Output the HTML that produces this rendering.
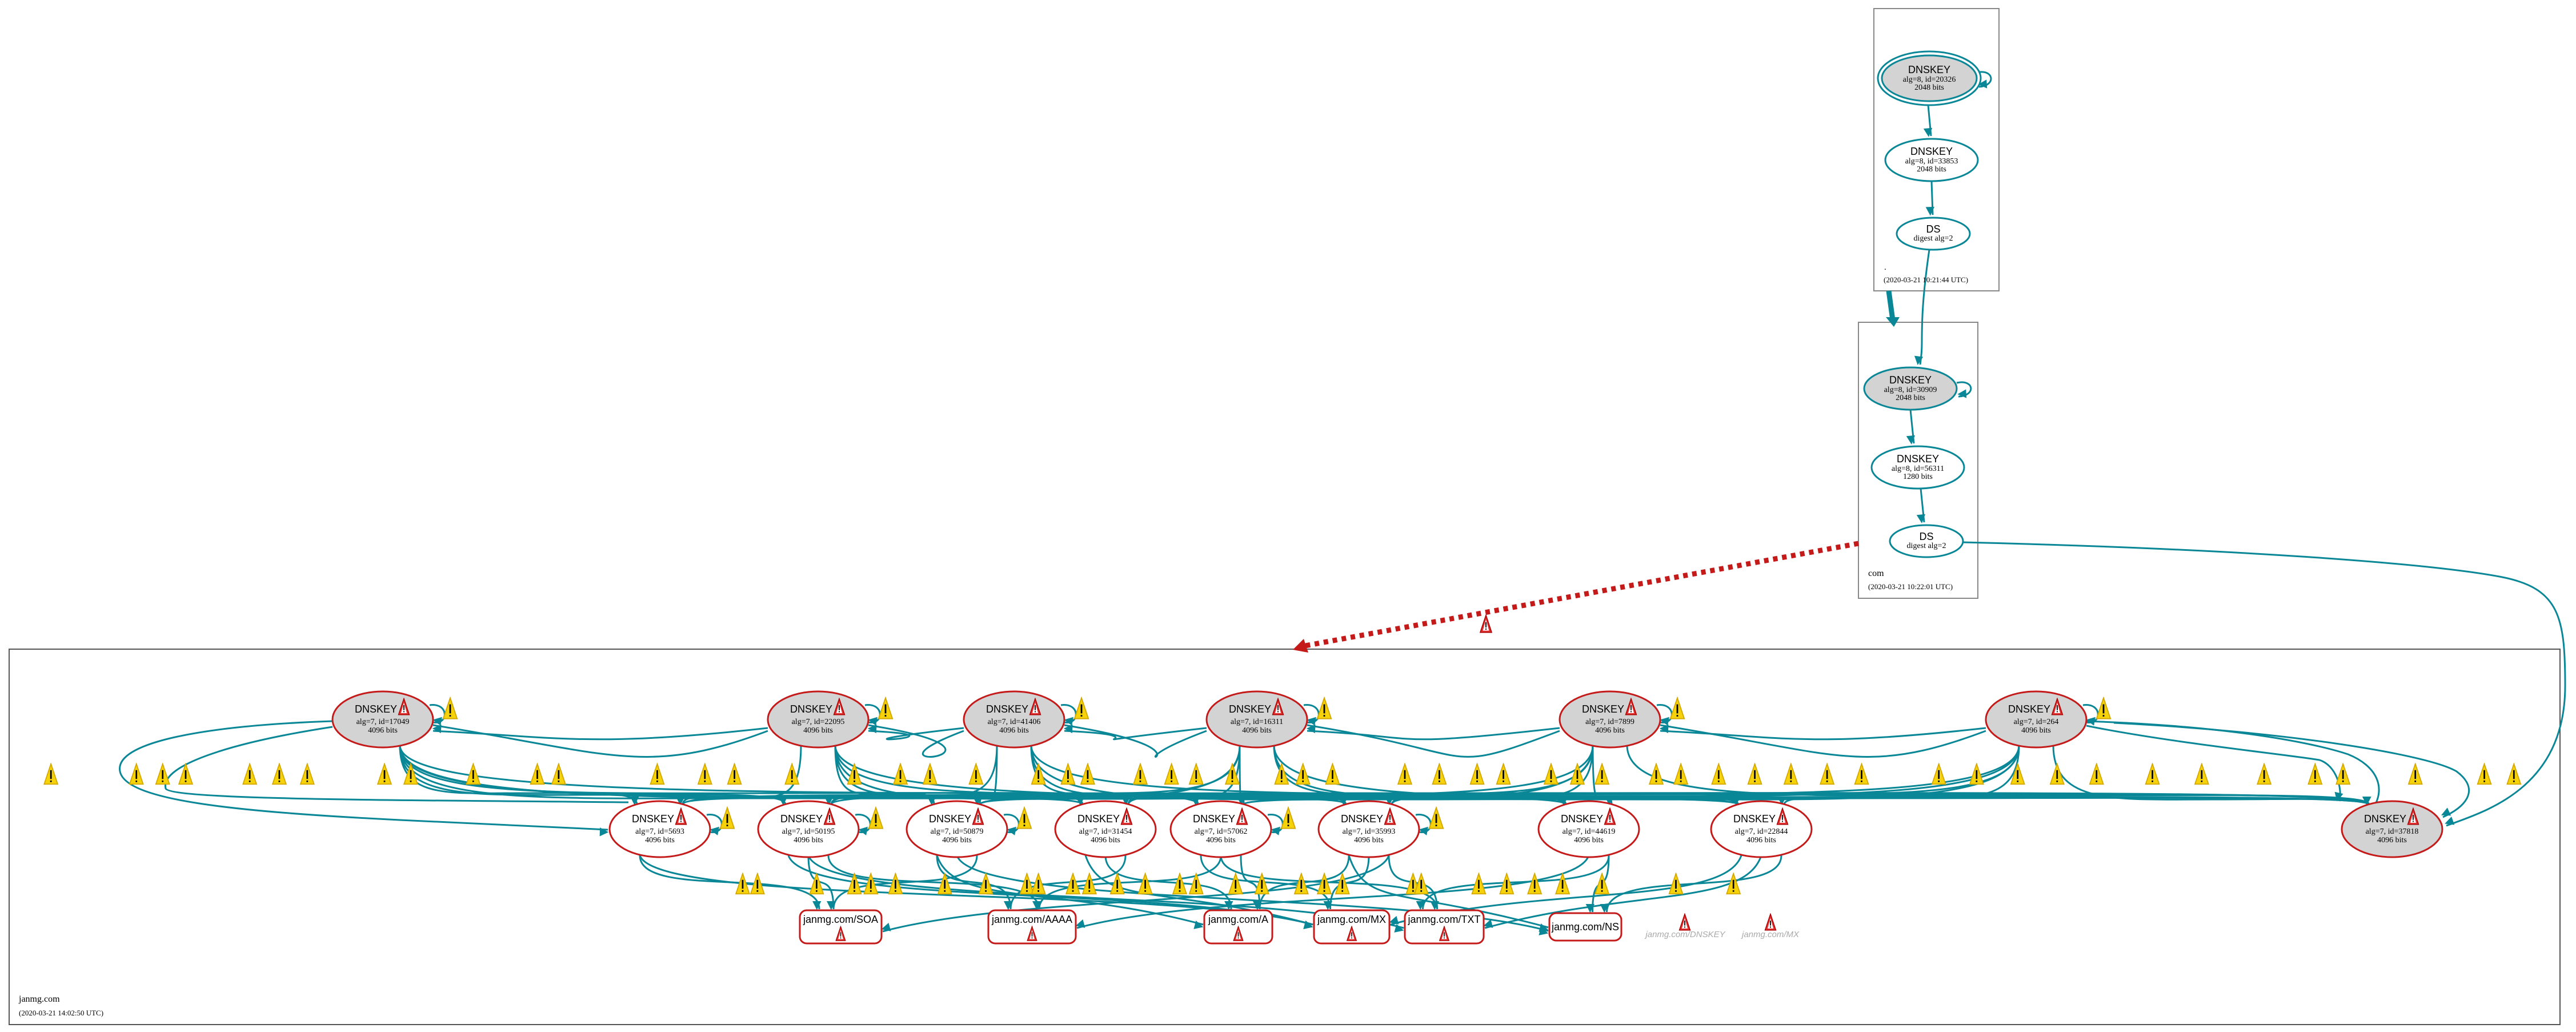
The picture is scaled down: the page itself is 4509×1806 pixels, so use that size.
<!DOCTYPE html>
<html><head><meta charset="utf-8">
<style>
html,body{margin:0;padding:0;background:#fff;}
svg{display:block;}
.t1{font-family:"Liberation Sans",sans-serif;font-size:18px;fill:#000;}
.t2{font-family:"Liberation Serif",serif;font-size:14px;fill:#000;}
.lbl{font-family:"Liberation Serif",serif;fill:#000;}
.gr{font-family:"Liberation Sans",sans-serif;font-size:15px;fill:#aaa;font-style:italic;}
</style></head>
<body>
<svg id="s" width="4509" height="1806" viewBox="0 0 4509 1806" xmlns="http://www.w3.org/2000/svg">
<defs>
<marker id="ah" viewBox="0 0 10 10" refX="9" refY="5" markerWidth="7" markerHeight="7" markerUnits="userSpaceOnUse" orient="auto" style="overflow:visible">
<path d="M0,0 L10,5 L0,10 z" fill="#0a8797" transform="scale(2.2) translate(-5,-0)"/>
</marker>
<symbol id="yw" viewBox="0 0 30 44"><path d="M15,2 L28,41 L2,41 Z" fill="#f5d20a" stroke="#d4a800" stroke-width="2"/><rect x="13.5" y="14" width="3" height="17" fill="#000"/><rect x="13.5" y="34" width="3" height="3" fill="#000"/></symbol>
<symbol id="rw" viewBox="0 0 30 44"><path d="M15,2 L28,41 L2,41 Z" fill="#e03030" stroke="#a00" stroke-width="2"/><path d="M15,12 L22,37 L8,37 Z" fill="#fff"/><rect x="13.8" y="18" width="2.4" height="12" fill="#000"/><rect x="13.8" y="32" width="2.4" height="3" fill="#000"/></symbol>
</defs>
<rect x="3280" y="15" width="219" height="494" fill="none" stroke="#888" stroke-width="2"/>
<rect x="3253" y="564" width="209" height="483" fill="none" stroke="#888" stroke-width="2"/>
<rect x="16" y="1136" width="4465" height="657" fill="none" stroke="#555" stroke-width="2"/>
<g id="edges" fill="none" stroke="#0a8797" stroke-width="3"></g>
<g id="warn"></g>
<g id="nodes"></g>
<ellipse cx="3377" cy="137" rx="90" ry="47" fill="#fff" stroke="#0a8797" stroke-width="3"/>
<ellipse cx="3377" cy="137" rx="83" ry="40" fill="#d3d3d3" stroke="#0a8797" stroke-width="3"/>
<text class="t1" x="3377" y="128" text-anchor="middle">DNSKEY</text>
<text class="t2" x="3377" y="143" text-anchor="middle">alg=8, id=20326</text>
<text class="t2" x="3377" y="157" text-anchor="middle">2048 bits</text>
<ellipse cx="3381" cy="280" rx="81" ry="37" fill="#fff" stroke="#0a8797" stroke-width="3"/>
<text class="t1" x="3381" y="271" text-anchor="middle">DNSKEY</text>
<text class="t2" x="3381" y="286" text-anchor="middle">alg=8, id=33853</text>
<text class="t2" x="3381" y="300" text-anchor="middle">2048 bits</text>
<ellipse cx="3384" cy="409" rx="64" ry="28" fill="#fff" stroke="#0a8797" stroke-width="3"/>
<text class="t1" x="3384" y="407" text-anchor="middle">DS</text>
<text class="t2" x="3384" y="421" text-anchor="middle">digest alg=2</text>
<text class="lbl" x="3298" y="472" font-size="15">.</text>
<text class="lbl" x="3297" y="494" font-size="13">(2020-03-21 10:21:44 UTC)</text>
<ellipse cx="3344" cy="680" rx="81" ry="37" fill="#d3d3d3" stroke="#0a8797" stroke-width="3"/>
<text class="t1" x="3344" y="671" text-anchor="middle">DNSKEY</text>
<text class="t2" x="3344" y="686" text-anchor="middle">alg=8, id=30909</text>
<text class="t2" x="3344" y="700" text-anchor="middle">2048 bits</text>
<ellipse cx="3357" cy="818" rx="81" ry="37" fill="#fff" stroke="#0a8797" stroke-width="3"/>
<text class="t1" x="3357" y="809" text-anchor="middle">DNSKEY</text>
<text class="t2" x="3357" y="824" text-anchor="middle">alg=8, id=56311</text>
<text class="t2" x="3357" y="838" text-anchor="middle">1280 bits</text>
<ellipse cx="3372" cy="947" rx="64" ry="28" fill="#fff" stroke="#0a8797" stroke-width="3"/>
<text class="t1" x="3372" y="945" text-anchor="middle">DS</text>
<text class="t2" x="3372" y="959" text-anchor="middle">digest alg=2</text>
<text class="lbl" x="3270" y="1008" font-size="16">com</text>
<text class="lbl" x="3270" y="1031" font-size="13">(2020-03-21 10:22:01 UTC)</text>
<path d="M3253,951 L2285,1130" fill="none" stroke="#c41a1a" stroke-width="9" stroke-dasharray="8,8"/>
<path d="M2263,1137 L2282,1118 L2290,1142 Z" fill="#c41a1a"/>
<use href="#rw" x="2589" y="1075" width="24" height="34"/>
<text class="lbl" x="33" y="1753" font-size="16">janmg.com</text>
<text class="lbl" x="33" y="1777" font-size="13">(2020-03-21 14:02:50 UTC)</text>
<use href="#rw" x="2938" y="1598" width="22" height="32"/>
<text class="gr" x="2950" y="1640" text-anchor="middle">janmg.com/DNSKEY</text>
<use href="#rw" x="3088" y="1598" width="22" height="32"/>
<text class="gr" x="3099" y="1640" text-anchor="middle">janmg.com/MX</text>
</svg>
<script>
var NS="http://www.w3.org/2000/svg";
function el(p,n,a,txt){var e=document.createElementNS(NS,n);for(var k in a)e.setAttribute(k,a[k]);if(txt!==undefined)e.textContent=txt;document.getElementById(p).appendChild(e);return e;}
var E="edges";
el(E,"path",{d:"M3375,184 L3380,238","marker-end":"url(#ah)"});
el(E,"path",{d:"M3381,317 L3383,376","marker-end":"url(#ah)"});
el(E,"path",{d:"M3377,437 C3365,520 3364,560 3364,600 C3364,620 3362,630 3361,638","marker-end":"url(#ah)"});
el(E,"path",{d:"M3344,717 L3350,776","marker-end":"url(#ah)"});
el(E,"path",{d:"M3362,855 L3368,914","marker-end":"url(#ah)"});
el(E,"path",{d:"M3306,509 L3313,560",stroke:"#0a8797","stroke-width":"9"});
el(E,"path",{d:"M3301,555 L3325,555 L3315,572 Z",fill:"#0a8797",stroke:"none"});
el(E,"path",{d:"M3436,949 C3900,960 4250,985 4380,1010 C4480,1030 4490,1080 4490,1200 C4490,1380 4350,1420 4282,1445","marker-end":"url(#ah)"});
el(E,"path",{d:"M3460,127 C3490,120 3495,150 3464,152","marker-end":"url(#ah)"});
el(E,"path",{d:"M3425,670 C3455,663 3460,692 3428,694","marker-end":"url(#ah)"});

var R1=[[670,"17049"],[1432,"22095"],[1775,"41406"],[2200,"16311"],[2818,"7899"],[3564,"264"]];
var R2=[[1155,"5693",0],[1415,"50195",0],[1675,"50879",0],[1935,"31454",0],[2137,"57062",0],[2396,"35993",0],[2781,"44619",0],[3083,"22844",0],[4187,"37818",1]];
var Y1=1259,Y2=1451,RX=88,RY=49;
R1.forEach(function(a,i){R2.forEach(function(b,j){
 if((i+j)%3==2 && j!=8) return;
 var sx=a[0]+(b[0]-a[0]>0?30:-30), sy=Y1+RY-4;
 var tx=b[0]+(a[0]>b[0]?40:-40), ty=Y2-RY+6;
 var mid=1388+((i*7+j*3)%12);
 el(E,"path",{d:"M"+sx+","+sy+" C"+sx+","+(mid+10)+" "+(sx+(tx-sx)*0.2)+","+mid+" "+((sx+tx)/2)+","+mid+" S"+tx+","+(mid-5)+" "+tx+","+ty,"marker-end":"url(#ah)"});
});});
R1.forEach(function(a,i){ if(i==0) return;
 var s=R1[i-1]; el(E,"path",{d:"M"+(s[0]+RX)+","+(Y1+10)+" C"+(s[0]+400)+","+(Y1+60)+" "+(a[0]-300)+","+(Y1+100)+" "+(a[0]-RX)+","+(Y1+20)});
 el(E,"path",{d:"M"+(a[0]-RX)+","+(Y1+15)+" C"+(a[0]-400)+","+(Y1+50)+" "+(s[0]+300)+","+(Y1+30)+" "+(s[0]+RX)+","+(Y1+20),"marker-end":"url(#ah)"});
});
el(E,"path",{d:"M582,1262 C350,1270 200,1300 210,1350 C220,1400 400,1420 700,1435 C900,1445 1000,1450 1064,1452","marker-end":"url(#ah)"});
el(E,"path",{d:"M582,1272 C400,1300 280,1340 290,1380 C300,1400 700,1400 1100,1404"});
el(E,"path",{d:"M3650,1262 C3900,1270 4050,1300 4110,1320 C4160,1340 4180,1380 4150,1420 C4120,1440 4110,1445 4102,1448"});
el(E,"path",{d:"M3652,1270 C3800,1300 4000,1320 4060,1330 C4090,1340 4100,1380 4095,1402","marker-end":"url(#ah)"});
el(E,"path",{d:"M3700,1265 C4000,1280 4250,1320 4300,1350 C4340,1380 4320,1410 4276,1430","marker-end":"url(#ah)"});
R1.forEach(function(a){var x=a[0]+RX-2;el(E,"path",{d:"M"+(x-4)+","+(Y1-25)+" C"+(x+30)+","+(Y1-30)+" "+(x+30)+","+(Y1+10)+" "+(x+2)+","+(Y1+5),"marker-end":"url(#ah)"});el("warn","use",{href:"#yw",x:x+18,y:Y1-40,width:28,height:42});});
R2.forEach(function(a,j){ if(j==0||j==1||j==2||j==4||j==5){var x=a[0]+RX-2;el(E,"path",{d:"M"+(x-4)+","+(Y2-25)+" C"+(x+30)+","+(Y2-30)+" "+(x+30)+","+(Y2+10)+" "+(x+2)+","+(Y2+5),"marker-end":"url(#ah)"});el("warn","use",{href:"#yw",x:x+18,y:Y2-40,width:28,height:42});}});
var R3=[[1400,1543,"janmg.com/SOA",1,1593],[1730,1883,"janmg.com/AAAA",1,1593],[2108,2227,"janmg.com/A",1,1593],[2300,2432,"janmg.com/MX",1,1593],[2459,2597,"janmg.com/TXT",1,1593],[2712,2838,"janmg.com/NS",0,1598]];
var links=[[0,0],[1,0],[1,1],[1,3],[1,4],[2,0],[2,2],[2,5],[3,1],[3,3],[4,1],[4,2],[4,3],[4,4],[5,0],[5,2],[5,3],[5,4],[5,5],[6,1],[6,4],[7,3],[7,4],[7,5],[2,1],[3,2],[6,5],[0,3]];
links.forEach(function(l,k){var a=R2[l[0]],r=R3[l[1]];var sx=a[0]+((k%3)-1)*35,sy=Y2+RY-3;var tx=(r[0]+r[1])/2+((k%4)-1.5)*25,ty=r[4]-2;
 var side=Math.abs(tx-sx)>400;
 if(side){var dir=(sx<tx)?1:-1;var tx2=dir>0?r[0]-2:r[1]+2;var ty2=r[4]+25+(k%3)*6;
  el(E,"path",{d:"M"+sx+","+sy+" C"+(sx+dir*30)+","+(sy+90)+" "+(tx2-dir*260)+","+(ty2-70)+" "+tx2+","+ty2,"marker-end":"url(#ah)"});}
 else el(E,"path",{d:"M"+sx+","+sy+" C"+sx+","+(sy+80)+" "+tx+","+(ty-80)+" "+tx+","+ty,"marker-end":"url(#ah)"});
});
R1.forEach(function(a){var x=a[0];
 el("nodes","ellipse",{cx:x,cy:Y1,rx:RX,ry:RY,fill:"#d3d3d3",stroke:"#c41a1a","stroke-width":3});
 el("nodes","text",{"class":"t1",x:x-12,y:Y1-12,"text-anchor":"middle"},"DNSKEY");
 el("nodes","use",{href:"#rw",x:x+26,y:Y1-38,width:22,height:32});
 el("nodes","text",{"class":"t2",x:x,y:Y1+8,"text-anchor":"middle"},"alg=7, id="+a[1]);
 el("nodes","text",{"class":"t2",x:x,y:Y1+23,"text-anchor":"middle"},"4096 bits");
});
R2.forEach(function(a){var x=a[0];
 el("nodes","ellipse",{cx:x,cy:Y2,rx:RX,ry:RY,fill:a[2]?"#d3d3d3":"#fff",stroke:"#c41a1a","stroke-width":3});
 el("nodes","text",{"class":"t1",x:x-12,y:Y2-12,"text-anchor":"middle"},"DNSKEY");
 el("nodes","use",{href:"#rw",x:x+26,y:Y2-38,width:22,height:32});
 el("nodes","text",{"class":"t2",x:x,y:Y2+8,"text-anchor":"middle"},"alg=7, id="+a[1]);
 el("nodes","text",{"class":"t2",x:x,y:Y2+23,"text-anchor":"middle"},"4096 bits");
});
R3.forEach(function(r){var h=r[3]?58:48;
 el("nodes","rect",{x:r[0],y:r[4],width:r[1]-r[0],height:h,rx:12,fill:"#fff",stroke:"#c41a1a","stroke-width":3});
 var cx=(r[0]+r[1])/2;
 el("nodes","text",{"class":"t1",x:cx,y:r[4]+(r[3]?22:30),"text-anchor":"middle"},r[2]);
 if(r[3]) el("nodes","use",{href:"#rw",x:cx-11,y:r[4]+27,width:22,height:28});
});
var w1=[31,83,99,113,152,170,187,234,250,288,327,340,400,429,447,482,520,548,566,594,632,650,662,694,713,728,750,780,793,811,855,876,899,915,944,960,975,1008,1023,1046,1068,1090,1112,1133,1180,1203,1228,1252,1276,1310,1340,1378,1409,1426,1470,1512,1530];
w1.forEach(function(x){el("warn","use",{href:"#yw",x:x*2.876-14,y:1335,width:28,height:40});});
var w2=[452,461,497,520,530,545,575,600,625,632,653,663,680,697,718,728,752,768,792,806,817,860,865,900,917,934,951,975,1020,1055];
w2.forEach(function(x){el("warn","use",{href:"#yw",x:x*2.876-14,y:1527,width:28,height:40});});
</script>
</body></html>
